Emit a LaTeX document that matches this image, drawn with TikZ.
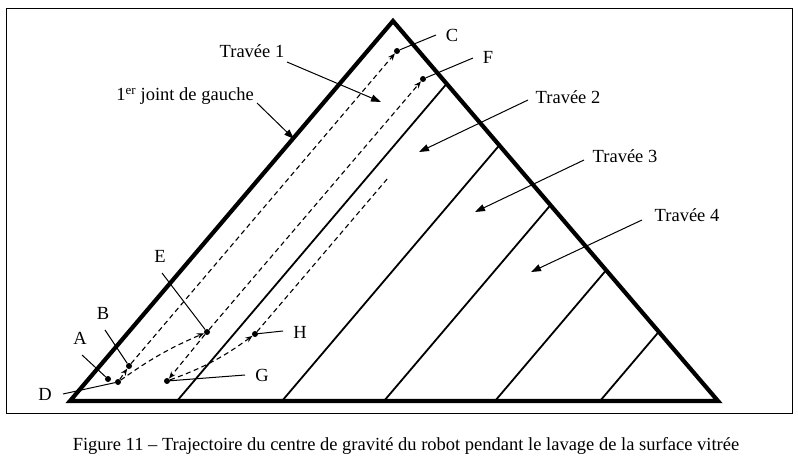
\documentclass[tikz,border=0pt]{standalone}
\usepackage{fontspec}
\setmainfont{Liberation Serif}
\usetikzlibrary{arrows.meta}
\begin{document}
\begin{tikzpicture}[x=1pt,y=-1pt,
  lab/.style={font=\fontsize{18.5}{21}\selectfont, inner sep=0pt},
  dot/.style={circle,fill,inner sep=0pt,minimum size=6pt},
  edgeline/.style={line width=4.2pt, line join=miter},
  divider/.style={line width=1.8pt},
  traj/.style={line width=1.1pt, dash pattern=on 5pt off 3.5pt, -{Stealth[length=7pt,width=5.5pt]}},
  trajplain/.style={line width=1.1pt, dash pattern=on 5pt off 3.5pt},
  ptr/.style={line width=1pt},
  callout/.style={line width=1pt, -{Triangle[length=10pt,width=7pt]}}]
\useasboundingbox (0,0) rectangle (798,465);
\draw[line width=1.1pt] (6.5,8.5) rectangle (792.5,413.5);
% triangle corners
\coordinate (T) at (393,21);
\coordinate (BL) at (70,401);
\coordinate (BR) at (718,401);
% dividers
\coordinate (d1b) at (177,401); \coordinate (d1t) at (446.7,83.7);
\coordinate (d2b) at (282,401); \coordinate (d2t) at (499.3,145.3);
\coordinate (d3b) at (384,401); \coordinate (d3t) at (550.5,205.1);
\coordinate (d4b) at (495,401); \coordinate (d4t) at (606.1,270.2);
\coordinate (d5b) at (600,401); \coordinate (d5t) at (658.8,331.8);
\foreach \i in {1,...,5} \draw[divider] (d\i b) -- (d\i t);
\draw[edgeline] (BL) -- (T) -- (BR) -- cycle;
% trajectory points
\node[dot] (pA) at (108,379) {};
\node[dot] (pD) at (118,382) {};
\node[dot] (pB) at (129,366) {};
\node[dot] (pC) at (397,51) {};
\node[dot] (pE) at (207,332) {};
\node[dot] (pF) at (423,79) {};
\node[dot] (pG) at (167,381) {};
\node[dot] (pH) at (255,334) {};
\coordinate (hEnd) at (388,178);
% trajectory
\draw[traj] (pD) -- (pB);
\draw[traj] (pB) -- (pC);
\draw[traj] (pD) to[bend left=6] (pE);
\draw[traj] (pE) -- (pF);
\draw[traj] (pE) -- (pG);
\draw[traj] (pG) to[bend right=8] (pH);
\draw[trajplain] (pH) -- (hEnd);
% letter labels
\node[lab] (lA) at (80,338) {A};
\node[lab] (lB) at (103,313) {B};
\node[lab] (lC) at (452,35) {C};
\node[lab] (lD) at (45,394) {D};
\node[lab] (lE) at (160,256) {E};
\node[lab] (lF) at (488,57) {F};
\node[lab] (lG) at (262,375) {G};
\node[lab] (lH) at (300,332) {H};
\coordinate (tA) at (82,355);
\coordinate (tB) at (105,330);
\coordinate (tC) at (436,35);
\coordinate (tD) at (63,394);
\coordinate (tE) at (162,273);
\coordinate (tF) at (473,58);
\coordinate (tG) at (245,375);
\coordinate (tH) at (283,331);
\draw[ptr] (tA) -- (pA);
\draw[ptr] (tB) -- (pB);
\draw[ptr] (tC) -- (pC);
\draw[ptr] (tD) -- (pD);
\draw[ptr] (tE) -- (pE);
\draw[ptr] (tF) -- (pF);
\draw[ptr] (tG) -- (pG);
\draw[ptr] (tH) -- (pH);
% span labels
\node[lab] (t1) at (252,51) {Travée 1};
\node[lab] (jg) at (185,96) {1\textsuperscript{er} joint de gauche};
\node[lab] (t2) at (568,97) {Travée 2};
\node[lab] (t3) at (625,156) {Travée 3};
\node[lab] (t4) at (687,215) {Travée 4};
\coordinate (a1s) at (287,62);  \coordinate (a1e) at (381,102);
\coordinate (ajs) at (257,103); \coordinate (aje) at (294,139);
\coordinate (a2s) at (528,100); \coordinate (a2e) at (419,152);
\coordinate (a3s) at (584,160); \coordinate (a3e) at (475,212);
\coordinate (a4s) at (642,220); \coordinate (a4e) at (531,272);
\draw[callout] (a1s) -- (a1e);
\draw[callout] (ajs) -- (aje);
\draw[callout] (a2s) -- (a2e);
\draw[callout] (a3s) -- (a3e);
\draw[callout] (a4s) -- (a4e);
% caption
\node[lab] (cap) at (406,446) {Figure 11 – Trajectoire du centre de gravité du robot pendant le lavage de la surface vitrée};
\end{tikzpicture}
\end{document}
